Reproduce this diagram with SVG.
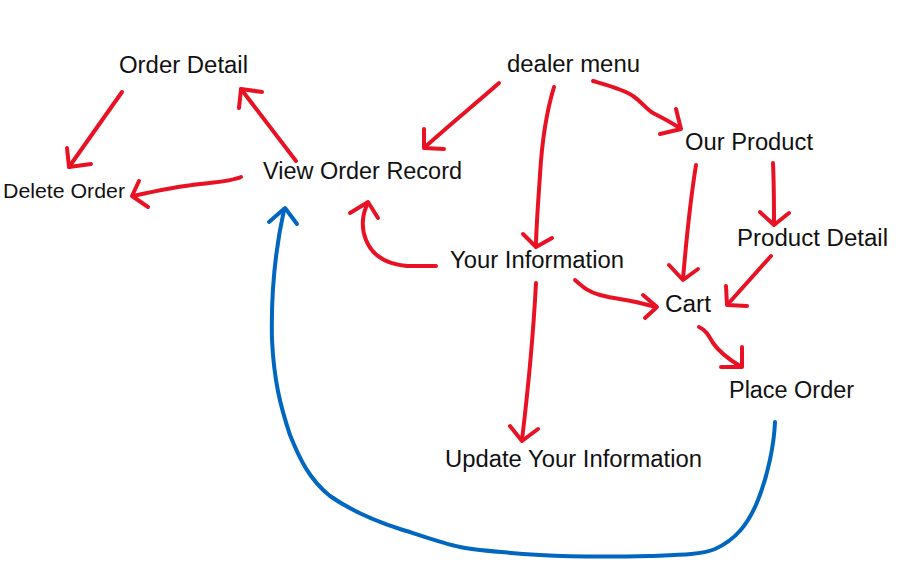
<svg xmlns="http://www.w3.org/2000/svg" width="905" height="575" viewBox="0 0 905 575">
<style>
.bg{fill:#ffffff}
.lbl{font-family:"Liberation Sans","Noto Sans",Arial,sans-serif;font-size:23px;fill:#111111}
.sm{font-size:20px}
.r{fill:none;stroke:#e81224;stroke-width:4;stroke-linecap:round;stroke-linejoin:round}
.b{fill:none;stroke:#0066c0;stroke-width:4;stroke-linecap:round;stroke-linejoin:round}
</style>
<rect class="bg" x="0" y="0" width="905" height="575"/>
<g id="connectors">
  <!-- Order Detail -> Delete Order -->
  <path class="r" d="M122,92 L69,167"/>
  <polyline class="r" points="67,148 69,167 91,164"/>
  <!-- View Order Record -> Order Detail -->
  <path class="r" d="M296,161 L241,89"/>
  <polyline class="r" points="239,108 241,89 262,92"/>
  <!-- View Order Record -> Delete Order -->
  <path class="r" d="M241,177 C232,181 218,182 200,184 C180,186 160,190 133,196"/>
  <polyline class="r" points="139,181 132,196 148,207"/>
  <!-- Your Information -> View Order Record -->
  <path class="r" d="M436,266 L407,266 C385,264 372,255 366,240 C361,228 362,214 368,203"/>
  <polyline class="r" points="350,213 368,202 378,218"/>
  <!-- dealer menu -> View Order Record -->
  <path class="r" d="M499,83 C480,100 455,120 425,147"/>
  <polyline class="r" points="424,129 424,148 444,149"/>
  <!-- dealer menu -> Your Information -->
  <path class="r" d="M554,87 C547,110 542,140 540,175 C538,205 536,230 536,246"/>
  <polyline class="r" points="523,234 536,247 552,238"/>
  <!-- dealer menu -> Our Product -->
  <path class="r" d="M593,81 C610,86 625,90 633,96 C642,102 645,108 653,113 C663,118 672,123 680,128"/>
  <polyline class="r" points="676,109 681,129 660,134"/>
  <!-- Our Product -> Cart -->
  <path class="r" d="M696,165 C692,190 688,220 683,279"/>
  <polyline class="r" points="669,265 683,280 698,269"/>
  <!-- Our Product -> Product Detail -->
  <path class="r" d="M773,163 C774,185 774,205 774,224"/>
  <polyline class="r" points="760,212 774,225 789,213"/>
  <!-- Product Detail -> Cart -->
  <path class="r" d="M771,256 L728,304"/>
  <polyline class="r" points="726,286 727,305 747,306"/>
  <!-- Your Information -> Cart -->
  <path class="r" d="M575,280 C582,286 588,292 600,295 C615,299 630,300 640,303 C648,305 652,306 656,307"/>
  <polyline class="r" points="643,295 657,307 645,318"/>
  <!-- Your Information -> Update Your Information -->
  <path class="r" d="M536,283 C533,340 528,390 522,440"/>
  <polyline class="r" points="510,426 522,441 538,429"/>
  <!-- Cart -> Place Order -->
  <path class="r" d="M699,327 C706,330 709,336 713,343 C720,353 730,360 740,366"/>
  <polyline class="r" points="742,347 742,367 721,367"/>
  <!-- Place Order -> View Order Record (blue) -->
  <path class="b" d="M775,422 C774,445 768,475 758,500 C748,525 735,540 715,549 C700,555 680,555 650,556 C610,557 575,557 540,555 C510,553 480,551 460,547 C440,543 420,535 400,529 C375,521 350,510 330,496 C310,480 300,460 290,435 C280,405 274,380 272,340 C271,300 273,260 284,210"/>
  <polyline class="b" points="269,222 285,208 297,224"/>
</g>
<g id="node-order-detail"><text class="lbl" x="119" y="73" textLength="129" lengthAdjust="spacingAndGlyphs">Order Detail</text></g>
<g id="node-delete-order"><text class="lbl sm" x="3" y="198" textLength="122" lengthAdjust="spacingAndGlyphs">Delete Order</text></g>
<g id="node-view-order-record"><text class="lbl" x="263" y="179" textLength="199" lengthAdjust="spacingAndGlyphs">View Order Record</text></g>
<g id="node-dealer-menu"><text class="lbl" x="507" y="72" textLength="133" lengthAdjust="spacingAndGlyphs">dealer menu</text></g>
<g id="node-our-product"><text class="lbl" x="685" y="150" textLength="128" lengthAdjust="spacingAndGlyphs">Our Product</text></g>
<g id="node-product-detail"><text class="lbl" x="737" y="246" textLength="151" lengthAdjust="spacingAndGlyphs">Product Detail</text></g>
<g id="node-your-information"><text class="lbl" x="450" y="268" textLength="174" lengthAdjust="spacingAndGlyphs">Your Information</text></g>
<g id="node-cart"><text class="lbl" x="665" y="312" textLength="46" lengthAdjust="spacingAndGlyphs">Cart</text></g>
<g id="node-place-order"><text class="lbl" x="729" y="398" textLength="125" lengthAdjust="spacingAndGlyphs">Place Order</text></g>
<g id="node-update-your-information"><text class="lbl" x="445" y="467" textLength="257" lengthAdjust="spacingAndGlyphs">Update Your Information</text></g>
</svg>
